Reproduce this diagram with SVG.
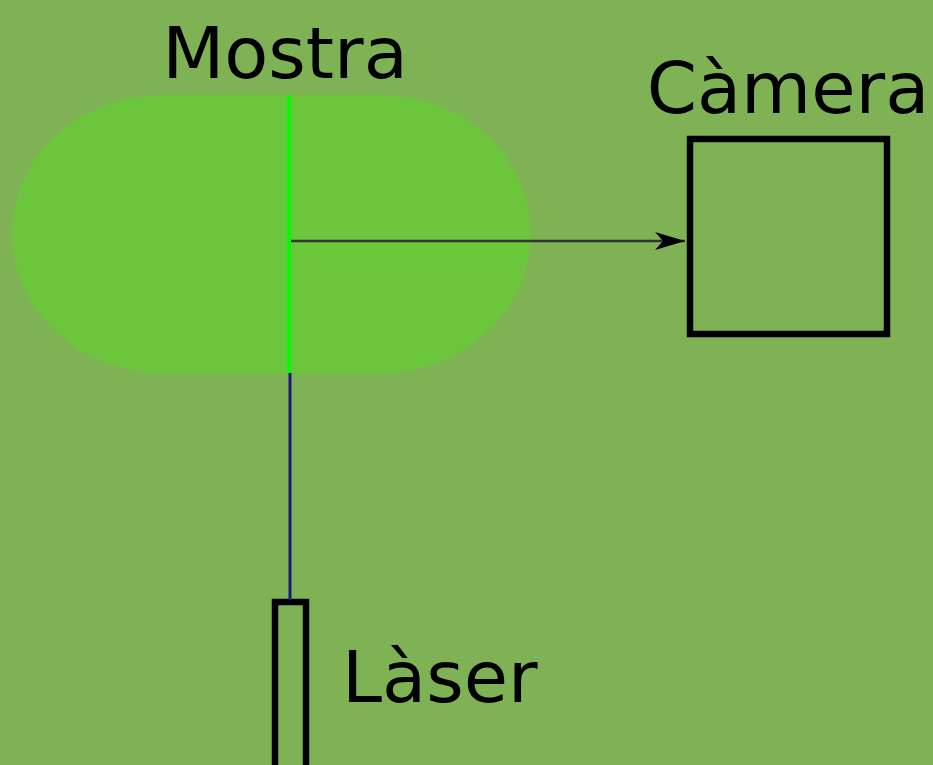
<svg xmlns="http://www.w3.org/2000/svg" width="933" height="765" viewBox="0 0 933 765">
<defs>
<style>
.lbl{font-family:"DejaVu Sans",sans-serif;font-size:72px;fill:#000}
.box{fill:none;stroke:#000;stroke-width:6.5}
</style>
<marker id="ah" viewBox="0 0 30 18" refX="30" refY="9" markerWidth="30" markerHeight="18" markerUnits="userSpaceOnUse" orient="auto">
<path d="M0,0 L30,9 L0,18 L8,9 Z" fill="#000"/>
</marker>
</defs>
<rect width="933" height="765" fill="#7fb255"/>
<g id="mostra">
<rect x="12" y="95" width="519" height="278" rx="150" ry="139" fill="#6cc63c"/>
<text class="lbl" x="285" y="78" text-anchor="middle">Mostra</text>
</g>
<g id="camera">
<rect class="box" x="690" y="139" width="197" height="195"/>
<text class="lbl" x="788" y="113" text-anchor="middle">Càmera</text>
</g>
<g id="laser">
<rect class="box" x="275" y="602" width="31" height="170"/>
<text class="lbl" x="342" y="702">Làser</text>
</g>
<g id="connectors">
<line x1="289" y1="95" x2="289" y2="373" stroke="#00ff00" stroke-width="4"/>
<line x1="290" y1="373" x2="290" y2="600" stroke="#1a1a80" stroke-width="3"/>
<line x1="291" y1="241" x2="685" y2="241" stroke="#333" stroke-width="2.5" marker-end="url(#ah)"/>
</g>
</svg>
